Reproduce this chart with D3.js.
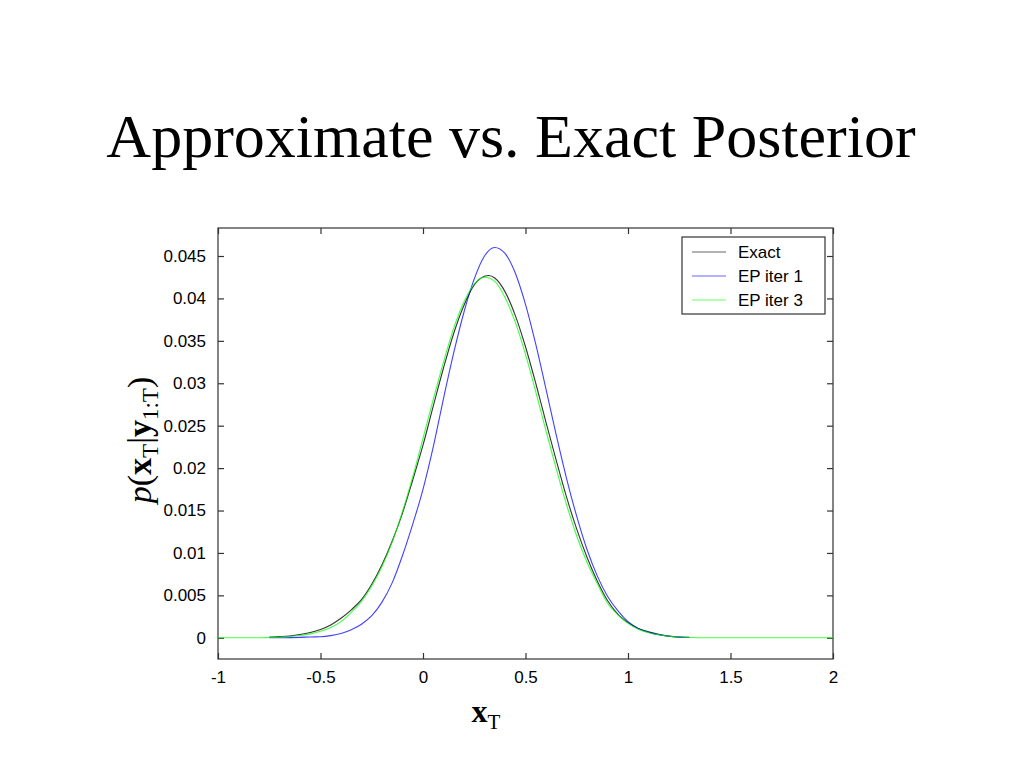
<!DOCTYPE html>
<html>
<head>
<meta charset="utf-8">
<script src="https://cdn.jsdelivr.net/npm/d3@7"></script>
<style>
  html, body { margin: 0; padding: 0; background: #fff; }
  svg { display: block; }
</style>
</head>
<body>
<script>
// ---- Data ----
const titleText = "Approximate vs. Exact Posterior";

const exactX = [-0.75,-0.7,-0.65,-0.6,-0.55,-0.5,-0.45,-0.4,-0.35,-0.3,-0.25,-0.2,-0.15,-0.1,-0.05,0,0.05,0.1,0.15,0.2,0.25,0.3,0.32,0.35,0.4,0.45,0.5,0.55,0.6,0.65,0.7,0.75,0.8,0.85,0.9,0.95,1.0,1.05,1.1,1.15,1.2,1.25,1.3];
const exactY = [0.00008,0.00014,0.00022,0.00038,0.00062,0.00098,0.00152,0.0023,0.0033,0.0045,0.0063,0.0086,0.0114,0.0147,0.0186,0.0227,0.0273,0.0318,0.0359,0.0392,0.0416,0.0426,0.0427,0.0424,0.0408,0.0380,0.0343,0.0300,0.0254,0.0209,0.0166,0.0128,0.0095,0.0067,0.0044,0.0028,0.0018,0.0011,0.0007,0.0004,0.0002,0.0001,0.00005];

const ep1X = [-0.75,-0.7,-0.65,-0.6,-0.55,-0.5,-0.45,-0.4,-0.35,-0.3,-0.25,-0.2,-0.15,-0.1,-0.05,0,0.05,0.1,0.15,0.2,0.25,0.3,0.35,0.4,0.45,0.5,0.55,0.6,0.65,0.7,0.75,0.8,0.85,0.9,0.95,1.0,1.05,1.1,1.15,1.2,1.25,1.3];
const ep1Y = [0.00001,0.00001,0.00002,0.00005,0.0001,0.00012,0.00025,0.0005,0.00095,0.0016,0.0026,0.0042,0.0065,0.0097,0.0134,0.0175,0.0225,0.0282,0.0336,0.0384,0.0423,0.0450,0.0460,0.0453,0.0430,0.0393,0.0346,0.0293,0.0239,0.0188,0.0143,0.0104,0.0073,0.0049,0.0032,0.0019,0.0011,0.00065,0.00035,0.00018,0.00008,0.00004];

const ep3X = [-1,-0.95,-0.9,-0.85,-0.8,-0.75,-0.7,-0.65,-0.6,-0.55,-0.5,-0.45,-0.4,-0.35,-0.3,-0.25,-0.2,-0.15,-0.1,-0.05,0,0.05,0.1,0.15,0.2,0.25,0.3,0.35,0.4,0.45,0.5,0.55,0.6,0.65,0.7,0.75,0.8,0.85,0.9,0.95,1.0,1.05,1.1,1.15,1.2,1.25,1.3,1.35,1.4,1.5,1.6,1.7,1.8,1.9,2.0];
const ep3Y = [0,0,0,0,0,0.00004,0.00008,0.00015,0.00027,0.00046,0.00076,0.00122,0.0019,0.0030,0.0043,0.0061,0.0084,0.0113,0.0149,0.0190,0.0235,0.0281,0.0325,0.0365,0.0396,0.0417,0.0425,0.0420,0.0401,0.0372,0.0334,0.0290,0.0244,0.0199,0.0157,0.0120,0.0089,0.0064,0.0041,0.0027,0.0017,0.0010,0.0006,0.00035,0.00018,0.00009,0.00004,0,0,0,0,0,0,0,0];

const seriesNames = ["Exact", "EP iter 1", "EP iter 3"];
const seriesColors = ["#000000", "#0000ff", "#00ff00"];

const xTickValues = [-1, -0.5, 0, 0.5, 1, 1.5, 2];
const xTickLabels = ["-1", "-0.5", "0", "0.5", "1", "1.5", "2"];
const yTickValues = [0, 0.005, 0.01, 0.015, 0.02, 0.025, 0.03, 0.035, 0.04, 0.045];
const yTickLabels = ["0", "0.005", "0.01", "0.015", "0.02", "0.025", "0.03", "0.035", "0.04", "0.045"];

const xDomain = [-1, 2];
const yDomain = [-0.0025, 0.0483];

// ---- Layout ----
const W = 1024, H = 768;
const plot = { left: 218, right: 833, top: 228, bottom: 659 };

const svg = d3.select("body").append("svg").attr("width", W).attr("height", H);

// Title
svg.append("text")
  .attr("x", 511).attr("y", 157)
  .attr("text-anchor", "middle")
  .attr("font-family", "'Liberation Serif', 'Times New Roman', serif")
  .attr("font-size", 62)
  .attr("fill", "#000")
  .text(titleText);

const x = d3.scaleLinear().domain(xDomain).range([plot.left, plot.right]);
const y = d3.scaleLinear().domain(yDomain).range([plot.bottom, plot.top]);

const axisColor = "#333";
const tickFont = "'Liberation Sans', Arial, Helvetica, sans-serif";
const tickSize = 17;

// Frame
svg.append("rect")
  .attr("x", plot.left).attr("y", plot.top)
  .attr("width", plot.right - plot.left).attr("height", plot.bottom - plot.top)
  .attr("fill", "none").attr("stroke", axisColor).attr("stroke-width", 1.2);

// Axes with inward ticks (MATLAB style)
function styleAxis(g) {
  g.select(".domain").remove();
  g.selectAll("line").attr("stroke", axisColor).attr("stroke-width", 1.2);
  g.selectAll("text").attr("font-family", tickFont).attr("font-size", tickSize).attr("fill", "#000");
}

const xAxisB = d3.axisBottom(x).tickValues(xTickValues)
  .tickFormat((d, i) => xTickLabels[i]).tickSizeInner(-6).tickPadding(12);
svg.append("g").attr("transform", `translate(0,${plot.bottom})`).call(xAxisB).call(styleAxis);

const xAxisT = d3.axisTop(x).tickValues(xTickValues).tickFormat("").tickSizeInner(-6);
svg.append("g").attr("transform", `translate(0,${plot.top})`).call(xAxisT).call(styleAxis);

const yAxisL = d3.axisLeft(y).tickValues(yTickValues)
  .tickFormat((d, i) => yTickLabels[i]).tickSizeInner(-6).tickPadding(12);
svg.append("g").attr("transform", `translate(${plot.left},0)`).call(yAxisL).call(styleAxis);

const yAxisR = d3.axisRight(y).tickValues(yTickValues).tickFormat("").tickSizeInner(-6);
svg.append("g").attr("transform", `translate(${plot.right},0)`).call(yAxisR).call(styleAxis);

// Lines
const line = d3.line().x(d => x(d[0])).y(d => y(d[1])).curve(d3.curveMonotoneX);
const seriesData = [
  d3.zip(exactX, exactY),
  d3.zip(ep1X, ep1Y),
  d3.zip(ep3X, ep3Y)
];
[0, 1, 2].forEach(i => {
  svg.append("path")
    .datum(seriesData[i])
    .attr("d", line)
    .attr("fill", "none")
    .attr("stroke", seriesColors[i])
    .attr("stroke-opacity", i === 0 ? 0.8 : 0.75)
    .attr("stroke-width", 1.1);
});

// Legend
const lg = svg.append("g");
lg.append("rect")
  .attr("x", 682).attr("y", 237).attr("width", 143).attr("height", 77)
  .attr("fill", "#fff").attr("stroke", axisColor).attr("stroke-width", 1.2);
seriesNames.forEach((name, i) => {
  const cy = 252 + i * 24;
  lg.append("line")
    .attr("x1", 692).attr("x2", 726).attr("y1", cy).attr("y2", cy)
    .attr("stroke", seriesColors[i]).attr("stroke-opacity", 0.6).attr("stroke-width", 1.1);
  lg.append("text")
    .attr("x", 738).attr("y", cy + 6)
    .attr("font-family", tickFont).attr("font-size", tickSize)
    .attr("fill", "#000")
    .text(name);
});

// X label: x_T
const serif = "'Liberation Serif', 'Times New Roman', serif";
const xl = svg.append("text")
  .attr("x", 486).attr("y", 722)
  .attr("text-anchor", "middle")
  .attr("font-family", serif).attr("font-size", 32).attr("fill", "#000");
xl.append("tspan").attr("font-weight", "bold").text("x");
xl.append("tspan").attr("font-size", 21).attr("dy", 7).text("T");

// Y label: p(x_T | y_1:T)
const yl = svg.append("text")
  .attr("transform", "translate(151,440) rotate(-90)")
  .attr("text-anchor", "middle")
  .attr("font-family", serif).attr("font-size", 34).attr("fill", "#000");
yl.append("tspan").attr("font-style", "italic").text("p");
yl.append("tspan").text("(");
yl.append("tspan").attr("font-weight", "bold").text("x");
yl.append("tspan").attr("font-size", 23).attr("dy", 7).text("T");
yl.append("tspan").attr("dy", -7).text("|");
yl.append("tspan").attr("font-weight", "bold").text("y");
yl.append("tspan").attr("font-size", 23).attr("dy", 7).text("1:T");
yl.append("tspan").attr("dy", -7).text(")");
</script>
</body>
</html>
